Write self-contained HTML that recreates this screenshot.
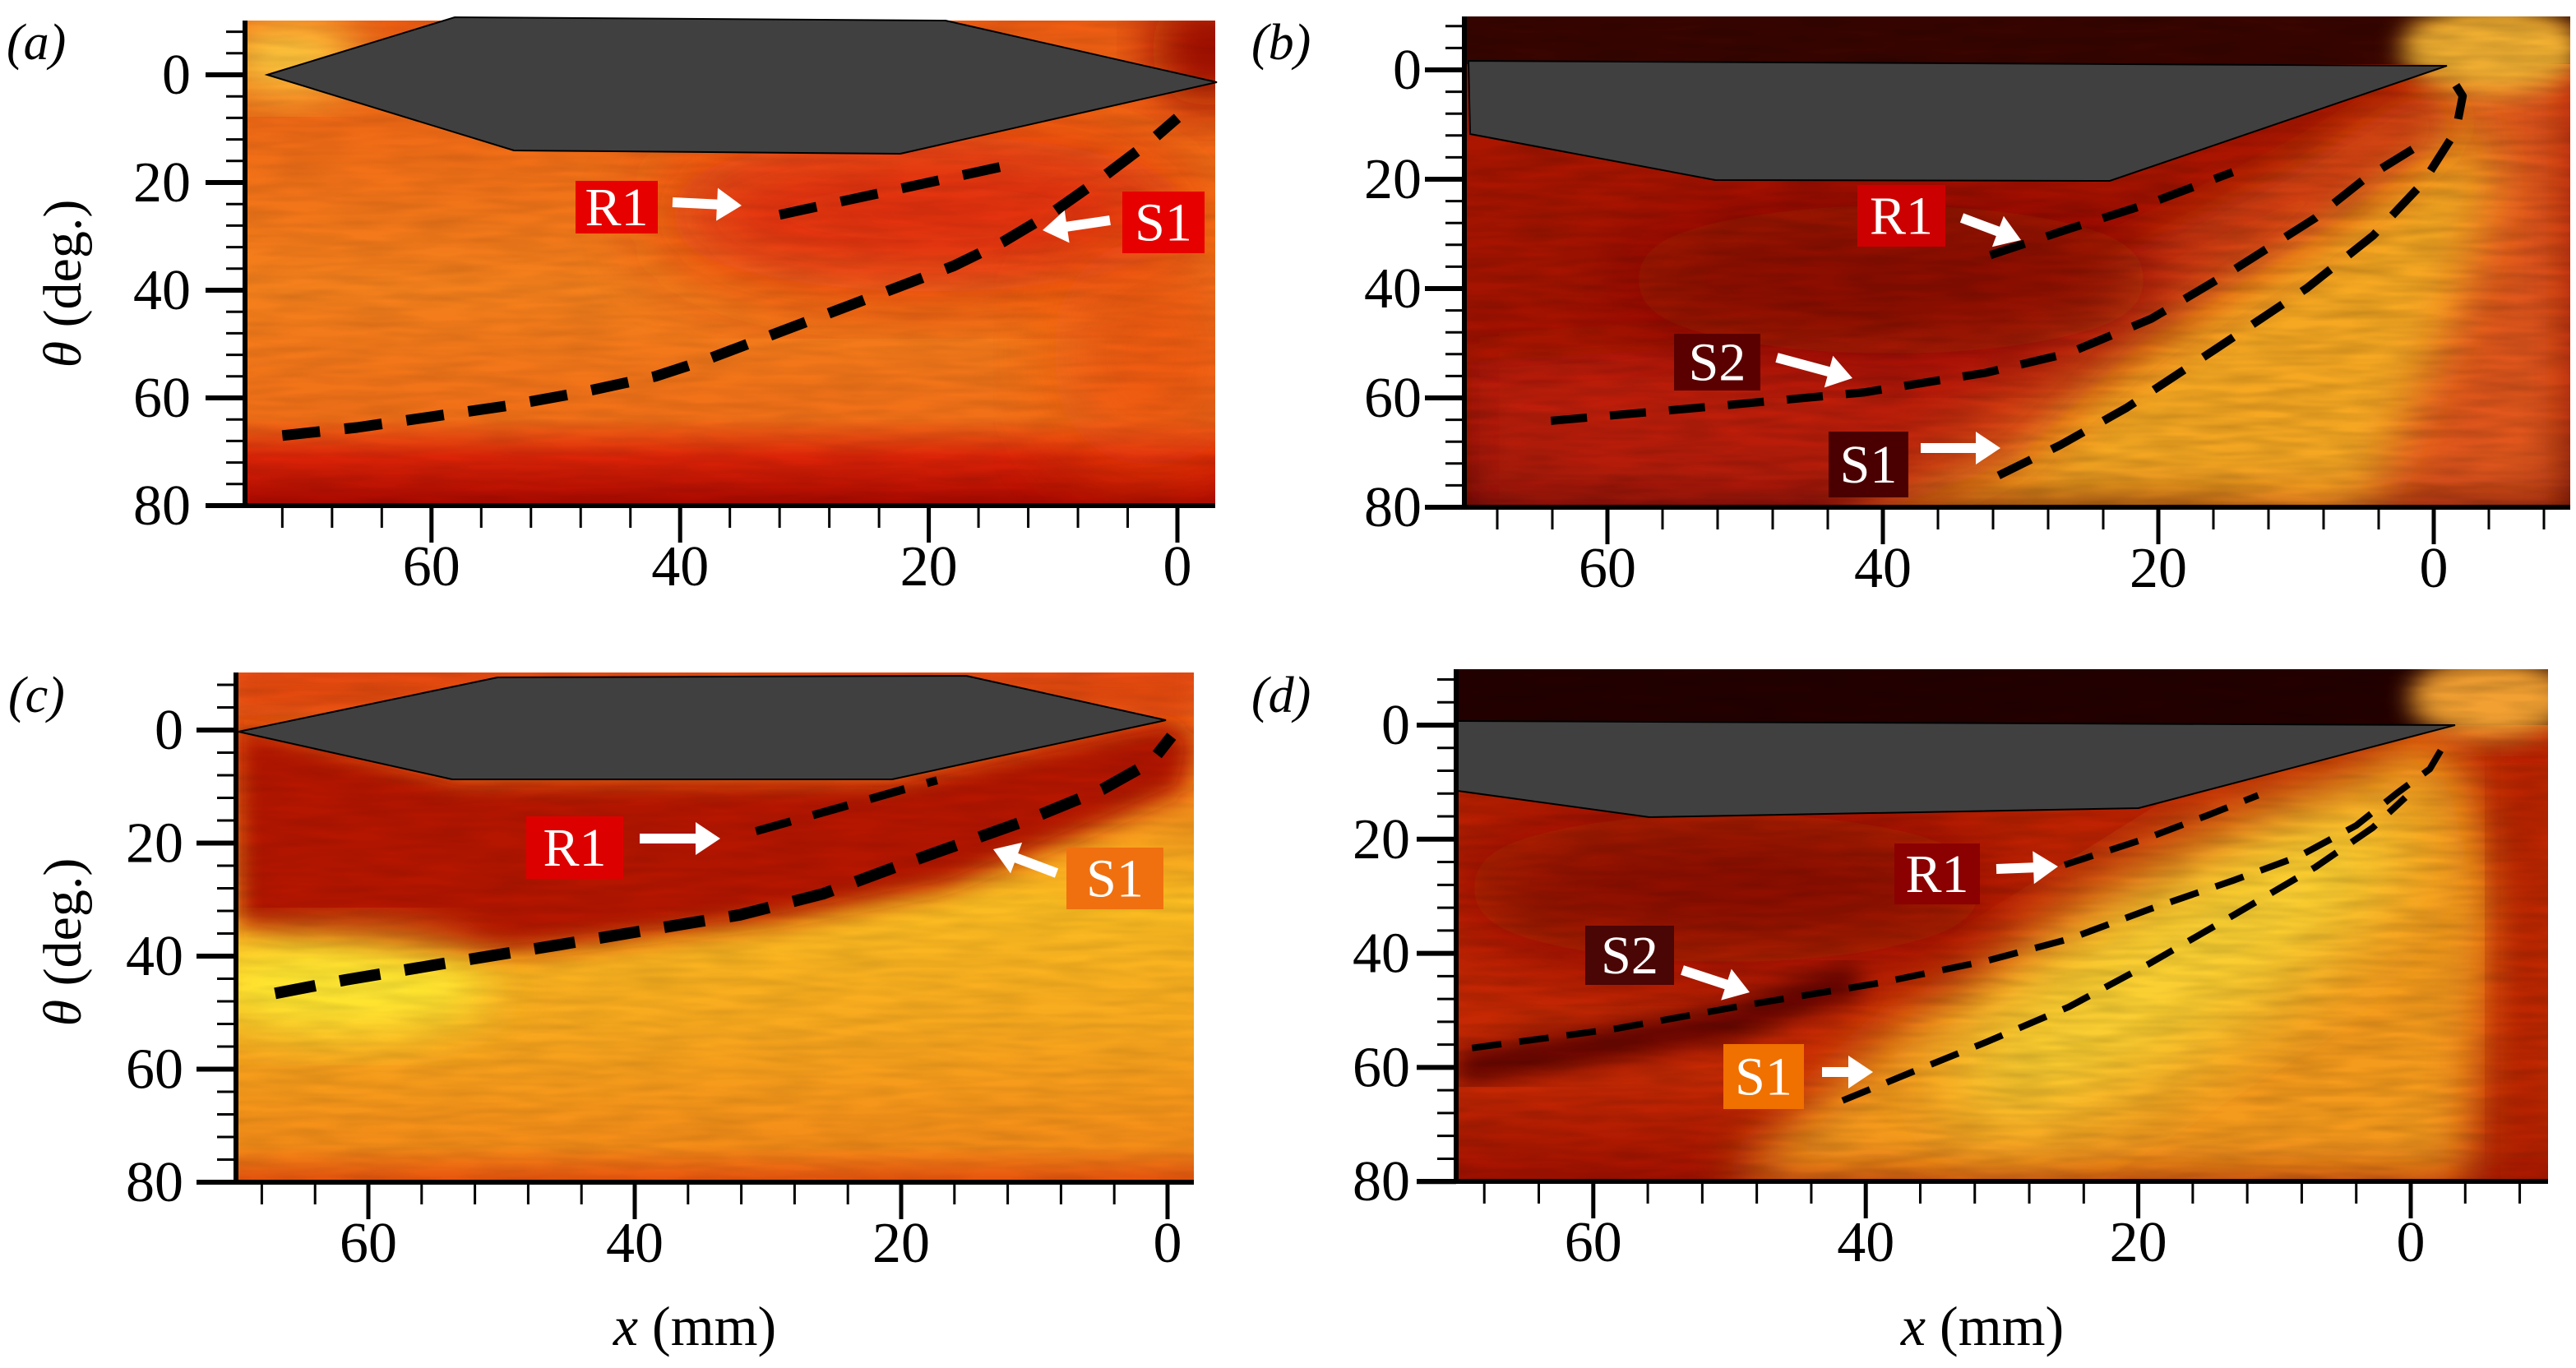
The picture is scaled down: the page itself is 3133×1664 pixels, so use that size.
<!DOCTYPE html>
<html><head><meta charset="utf-8"><style>
html,body{margin:0;padding:0;background:#fff;}
svg{display:block;}
svg text{font-family:"Liberation Serif","Times New Roman",serif;}
</style></head><body>
<svg id="fig" xmlns="http://www.w3.org/2000/svg" width="3133" height="1664" viewBox="0 0 3133 1664" font-family="Liberation Serif, serif">
<defs>
<filter id="b15" x="-20%" y="-20%" width="140%" height="140%"><feGaussianBlur stdDeviation="15"/></filter>
<filter id="b30" x="-30%" y="-30%" width="160%" height="160%"><feGaussianBlur stdDeviation="30"/></filter>
<filter id="b50" x="-30%" y="-30%" width="160%" height="160%"><feGaussianBlur stdDeviation="50"/></filter>
<filter id="noise" x="0" y="0" width="100%" height="100%"><feTurbulence type="fractalNoise" baseFrequency="0.012 0.09" numOctaves="2" seed="4"/><feColorMatrix type="matrix" values="0 0 0 0 0  0 0 0 0 0  0 0 0 0 0  0 0 0 -1.4 1.0"/></filter>
<clipPath id="ca"><rect x="298" y="25" width="1180" height="590"/></clipPath>
<clipPath id="cb"><rect x="1781" y="20" width="1345" height="597"/></clipPath>
<clipPath id="cc"><rect x="287" y="818" width="1165" height="620"/></clipPath>
<clipPath id="cd"><rect x="1771" y="814" width="1328" height="623"/></clipPath>
<linearGradient id="ga" x1="0" y1="0" x2="0" y2="1"><stop offset="0" stop-color="#ee5c12"/><stop offset="0.55" stop-color="#f4801c"/><stop offset="0.82" stop-color="#f27018"/><stop offset="0.9" stop-color="#dc2408"/><stop offset="1" stop-color="#a80800"/></linearGradient>
<linearGradient id="gc" x1="0" y1="0" x2="0" y2="1"><stop offset="0" stop-color="#ec5010"/><stop offset="0.45" stop-color="#fbbd22"/><stop offset="0.7" stop-color="#f8a81e"/><stop offset="0.93" stop-color="#f48c18"/><stop offset="1" stop-color="#e6500e"/></linearGradient>
<linearGradient id="gb" x1="0" y1="0" x2="0" y2="1"><stop offset="0" stop-color="#b01800"/><stop offset="0.75" stop-color="#a01200"/><stop offset="1" stop-color="#5a0500"/></linearGradient>
<linearGradient id="gd" x1="0" y1="0" x2="0" y2="1"><stop offset="0" stop-color="#b81e00"/><stop offset="0.8" stop-color="#c82a04"/><stop offset="1" stop-color="#a01000"/></linearGradient>
</defs>

<g id="bg-a" clip-path="url(#ca)">
<rect x="298" y="25" width="1180" height="590" fill="url(#ga)"/>
<ellipse cx="1130" cy="260" rx="330" ry="95" fill="#e02808" filter="url(#b50)" opacity="0.9"/>
<ellipse cx="1400" cy="430" rx="120" ry="140" fill="#ec5010" filter="url(#b50)" opacity="0.7"/>
<ellipse cx="350" cy="70" rx="90" ry="45" fill="#ffd040" filter="url(#b30)"/>
<ellipse cx="1470" cy="60" rx="70" ry="70" fill="#a01000" filter="url(#b30)"/>
<rect x="298" y="25" width="1180" height="590" filter="url(#noise)" opacity="0.12"/>
</g>
<g id="bg-b" clip-path="url(#cb)">
<rect x="1781" y="20" width="1345" height="597" fill="url(#gb)"/>
<polygon points="2960,90 3126,40 3126,617 2700,617 2900,380 3000,200" fill="#e0561a" filter="url(#b30)"/>
<polygon points="2240,617 2350,530 2480,420 2600,330 2760,240 2900,150 2990,110 3040,220 2980,400 2880,617" fill="#f6a820" filter="url(#b30)"/>
<polygon points="1790,440 2100,420 2350,390 2600,300 2800,200 2960,100 2990,160 2800,300 2600,420 2450,560 2300,617 1790,617" fill="#c82008" filter="url(#b30)" opacity="0.8"/>
<ellipse cx="2300" cy="340" rx="330" ry="90" fill="#8a0e00" filter="url(#b50)"/>
<rect x="1781" y="20" width="1345" height="58" fill="#380500"/>
<ellipse cx="3030" cy="60" rx="110" ry="55" fill="#f2b030" filter="url(#b15)"/>
<rect x="1781" y="20" width="1345" height="597" filter="url(#noise)" opacity="0.2"/>
</g>
<g id="bg-c" clip-path="url(#cc)">
<rect x="287" y="818" width="1165" height="620" fill="url(#gc)"/>
<polygon points="287,880 560,948 1085,948 1418,876 1452,900 1440,960 1300,1020 1150,1080 950,1120 700,1150 500,1170 287,1130" fill="#b41400" filter="url(#b15)"/>
<polygon points="287,818 1452,818 1452,870 287,870" fill="#e04410" filter="url(#b15)" opacity="0.8"/>
<ellipse cx="420" cy="1200" rx="180" ry="60" fill="#ffe830" filter="url(#b30)"/>
<rect x="287" y="818" width="1165" height="620" filter="url(#noise)" opacity="0.12"/>
</g>
<g id="bg-d" clip-path="url(#cd)">
<rect x="1771" y="814" width="1328" height="623" fill="url(#gd)"/>
<polygon points="2100,1437 2300,1250 2500,1150 2700,1050 2850,960 2935,890 3000,930 3040,1100 3000,1437" fill="#f49a1c" filter="url(#b30)"/>
<ellipse cx="2650" cy="1170" rx="330" ry="110" transform="rotate(-32 2650 1170)" fill="#fad030" filter="url(#b50)"/>
<polygon points="3040,900 3099,900 3099,1437 3040,1437" fill="#b82800" filter="url(#b30)"/>
<ellipse cx="2100" cy="1080" rx="330" ry="90" fill="#8a1000" filter="url(#b50)"/>
<path d="M1771,1300 L1900,1280 2100,1245 2260,1190" stroke="#5a0500" stroke-width="40" fill="none" filter="url(#b15)"/>
<rect x="1771" y="814" width="1328" height="68" fill="#240000"/>
<ellipse cx="3030" cy="850" rx="100" ry="50" fill="#f2a030" filter="url(#b15)"/>
<rect x="1771" y="814" width="1328" height="623" filter="url(#noise)" opacity="0.18"/>
</g>

<polygon points="325,91 553,21 1150,25 1480,100 1095,187 625,183" fill="#404040" stroke="#000" stroke-width="2"/>
<polygon points="1786,74 2976,80 2566,220 2086,219 1788,163" fill="#404040" stroke="#000" stroke-width="2"/>
<polygon points="290,890 605,824 1175,822 1418,876 1085,948 550,948" fill="#404040" stroke="#000" stroke-width="2"/>
<polygon points="1773,877 2986,882 2601,983 2006,994 1773,962" fill="#404040" stroke="#000" stroke-width="2"/>

<g id="overlay"></g>

<text x="8" y="72" font-size="62" font-style="italic">(a)</text>
<text x="1522" y="72" font-size="62" font-style="italic">(b)</text>
<text x="10" y="866" font-size="62" font-style="italic">(c)</text>
<text x="1522" y="866" font-size="62" font-style="italic">(d)</text>
<text transform="translate(98,345) rotate(-90)" text-anchor="middle" font-size="66"><tspan font-style="italic">θ</tspan> (deg.)</text>
<text transform="translate(98,1146) rotate(-90)" text-anchor="middle" font-size="66"><tspan font-style="italic">θ</tspan> (deg.)</text>
<text x="845" y="1636" text-anchor="middle" font-size="68"><tspan font-style="italic">x</tspan> (mm)</text>
<text x="2411" y="1636" text-anchor="middle" font-size="68"><tspan font-style="italic">x</tspan> (mm)</text>
</svg>
<script>
const yTickLabels = [0, 20, 40, 60, 80];
const xTickLabels = [60, 40, 20, 0];
const a_S1_x = [72, 66, 60, 54, 48, 42, 38, 34, 30, 26, 22, 18, 14, 10, 6, 2, 0];
const a_S1_theta = [67, 65.5, 63.5, 61.5, 59, 56, 53, 49.5, 46, 42.5, 39, 35.5, 31, 25.5, 19, 12, 8];
const a_R1_x = [32, 28, 24, 18, 14];
const a_R1_theta = [26, 24, 22, 19, 17];
const b_S2_x = [64.1, 53.4, 41.4, 32.5, 26.5, 20.5, 14.6, 8.6, 5.0, 1.4];
const b_S2_theta = [64.2, 61.8, 59, 55.4, 51.8, 45.5, 36.7, 27.1, 19.9, 14.3];
const b_S1_x = [31.6, 27.1, 22.3, 15.8, 9.2, 4.4, 0.8, -1.6, -2.1, -1.3];
const b_S1_theta = [74.2, 68.6, 61.8, 51, 39.9, 30.3, 20.7, 11.2, 4.8, 1.6];
const b_R1_x = [32.2, 26.5, 20.5, 14.6];
const b_R1_theta = [33.9, 29.1, 24.3, 18.7];
const c_S1_x = [67, 61.7, 54.3, 45.7, 38.3, 32.1, 25.9, 19.8, 14.8, 10.5, 4.9, 1.2, -0.3];
const c_S1_theta = [46.6, 44.2, 41.3, 38, 35.1, 32.7, 29, 23.7, 19.5, 15.9, 10.5, 5.6, 1.1];
const c_R1_x = [30.9, 25.3, 19.8, 17.3];
const c_R1_theta = [17.9, 14.2, 10.5, 8.9];
const d_S2_x = [68.9, 58.3, 48.6, 39, 31.1, 25.1, 19.1, 13, 8.2, 4, 1, -1.4, -2.8];
const d_S2_theta = [56.6, 53.2, 49, 45.2, 41.3, 37.5, 32.2, 27.2, 23, 17.6, 11.9, 7.7, 2];
const d_S1_x = [41.7, 36.6, 31.1, 25.1, 19.1, 13, 7, 2.8, 0.4];
const d_S1_theta = [65.8, 60.8, 55.5, 49.4, 41.7, 33.3, 24.9, 18, 12.7];
const d_R1_x = [25.4, 19.1, 14.8, 11.2];
const d_R1_theta = [24.5, 19.6, 15.7, 12.3];

const NS = 'http://www.w3.org/2000/svg';
const ov = document.getElementById('overlay');
function mk(tag, attrs, parent) {
  const e = document.createElementNS(NS, tag);
  for (const k in attrs) e.setAttribute(k, attrs[k]);
  (parent || ov).appendChild(e);
  return e;
}
const P = {
  a: {x0:1432, kx:15.12, y0:91, ky:6.55, left:298, right:1478, top:25, bottom:615, lab:66, xmin:0, xmax:72},
  b: {x0:2960, kx:16.75, y0:85, ky:6.65, left:1781, right:3126, top:20, bottom:617, lab:52, xmin:-8, xmax:68},
  c: {x0:1420, kx:16.2, y0:888, ky:6.875, left:287, right:1452, top:818, bottom:1438, lab:64, xmin:0, xmax:68},
  d: {x0:2932, kx:16.57, y0:882, ky:6.94, left:1771, right:3099, top:814, bottom:1437, lab:56, xmin:-8, xmax:68}
};
function sx(p, v) { return p.x0 - v * p.kx; }
function sy(p, v) { return p.y0 + v * p.ky; }

function axes(id) {
  const p = P[id];
  const g = mk('g', {});
  
  
  const yl = mk('line', {x1:p.left, y1:p.top, x2:p.left, y2:p.bottom, stroke:'#000', 'stroke-width':6}, g);
  
  
  const xl = mk('line', {x1:p.left - 48, y1:p.bottom, x2:p.right, y2:p.bottom, stroke:'#000', 'stroke-width':6}, g);
  
  
  for (let t = -8; t <= 80; t += 4) {
    const y = sy(p, t);
    if (y < p.top) continue;
    const major = t % 20 === 0;
    const tk = mk('line', {x1:p.left - (major ? 48 : 23), y1:y, x2:p.left, y2:y, stroke:'#000', 'stroke-width':major ? 6 : 3}, g);
    
    
  }
  for (let t = p.xmax; t >= p.xmin; t -= 4) {
    const x = sx(p, t);
    const major = t % 20 === 0 && t >= 0;
    const tk = mk('line', {x1:x, y1:p.bottom, x2:x, y2:p.bottom + (major ? 45 : 27), stroke:'#000', 'stroke-width':major ? 5 : 3}, g);
    
    
  }
  yTickLabels.forEach(v => {
    const t = mk('text', {x:p.left - p.lab, y:sy(p, v) + 23, 'text-anchor':'end', 'font-size':70, 'font-family':'Liberation Serif, serif'}, g);
    t.textContent = v;
    
    
  });
  xTickLabels.forEach(v => {
    const t = mk('text', {x:sx(p, v), y:p.bottom + 97, 'text-anchor':'middle', 'font-size':70, 'font-family':'Liberation Serif, serif'}, g);
    t.textContent = v;
    
    
  });
}

function curve(id, xs, ts, name, w, dash) {
  const p = P[id];
  let d = '';
  xs.forEach((v, i) => { d += (i ? 'L' : 'M') + sx(p, v).toFixed(1) + ',' + sy(p, ts[i]).toFixed(1); });
  const e = mk('path', {d:d, fill:'none', stroke:'#000', 'stroke-width':w, 'stroke-dasharray':dash, 'stroke-linejoin':'round'});
  
  
}

function label(txt, x, y, w, h, fill, name) {
  const g = mk('g', {});
  
  
  mk('rect', {x:x, y:y, width:w, height:h, fill:fill}, g);
  const t = mk('text', {x:x + w / 2, y:y + h / 2 + 22, 'text-anchor':'middle', 'font-size':66, fill:'#fff', 'font-family':'Liberation Serif, serif'}, g);
  t.textContent = txt;
}
function arrow(x1, y1, x2, y2, name) {
  const dx = x2 - x1, dy = y2 - y1, L = Math.hypot(dx, dy);
  const ux = dx / L, uy = dy / L, nx = -uy, ny = ux;
  const hl = 30, hw = 20, sw = 6;
  const bx = x2 - ux * hl, by = y2 - uy * hl;
  const pts = [
    [x1 + nx * sw, y1 + ny * sw], [bx + nx * sw, by + ny * sw], [bx + nx * hw, by + ny * hw],
    [x2, y2], [bx - nx * hw, by - ny * hw], [bx - nx * sw, by - ny * sw], [x1 - nx * sw, y1 - ny * sw]
  ].map(q => q[0].toFixed(1) + ',' + q[1].toFixed(1)).join(' ');
  const e = mk('polygon', {points:pts, fill:'#fff'});
  
  
}

['a', 'b', 'c', 'd'].forEach(axes);

curve('a', a_S1_x, a_S1_theta, 'shock-s1-a', 13, '46 30');
curve('a', a_R1_x, a_R1_theta, 'shock-r1-a', 12, '46 30');
curve('b', b_S2_x, b_S2_theta, 'shock-s2-b', 10, '44 28');
curve('b', b_S1_x, b_S1_theta, 'shock-s1-b', 10, '44 28');
curve('b', b_R1_x, b_R1_theta, 'shock-r1-b', 10, '44 28');
curve('c', c_S1_x, c_S1_theta, 'shock-s1-c', 14, '50 30');
curve('c', c_R1_x, c_R1_theta, 'shock-r1-c', 10, '44 28');
curve('d', d_S2_x, d_S2_theta, 'shock-s2-d', 8, '36 22');
curve('d', d_S1_x, d_S1_theta, 'shock-s1-d', 8, '36 22');
curve('d', d_R1_x, d_R1_theta, 'shock-r1-d', 8, '36 22');

label('R1', 700, 220, 100, 64, '#e60000', 'label-r1-a');
arrow(818, 246, 902, 250, 'arrow-r1-a');
label('S1', 1365, 233, 100, 75, '#e60000', 'label-s1-a');
arrow(1350, 268, 1268, 280, 'arrow-s1-a');

label('R1', 2259, 225, 107, 75, '#cc0000', 'label-r1-b');
arrow(2386, 265, 2458, 292, 'arrow-r1-b');
label('S2', 2036, 406, 105, 69, '#5a0000', 'label-s2-b');
arrow(2161, 435, 2253, 460, 'arrow-s2-b');
label('S1', 2224, 525, 97, 80, '#4a0000', 'label-s1-b');
arrow(2336, 545, 2433, 545, 'arrow-s1-b');

label('R1', 640, 993, 118, 76, '#dd0000', 'label-r1-c');
arrow(778, 1020, 876, 1020, 'arrow-r1-c');
label('S1', 1297, 1031, 118, 75, '#f07010', 'label-s1-c');
arrow(1285, 1062, 1208, 1033, 'arrow-s1-c');

label('R1', 2304, 1026, 104, 74, '#8b0000', 'label-r1-d');
arrow(2428, 1057, 2503, 1054, 'arrow-r1-d');
label('S2', 1928, 1126, 108, 72, '#4a0505', 'label-s2-d');
arrow(2046, 1180, 2128, 1207, 'arrow-s2-d');
label('S1', 2096, 1270, 98, 79, '#f07000', 'label-s1-d');
arrow(2216, 1304, 2278, 1304, 'arrow-s1-d');
</script>
</body></html>
